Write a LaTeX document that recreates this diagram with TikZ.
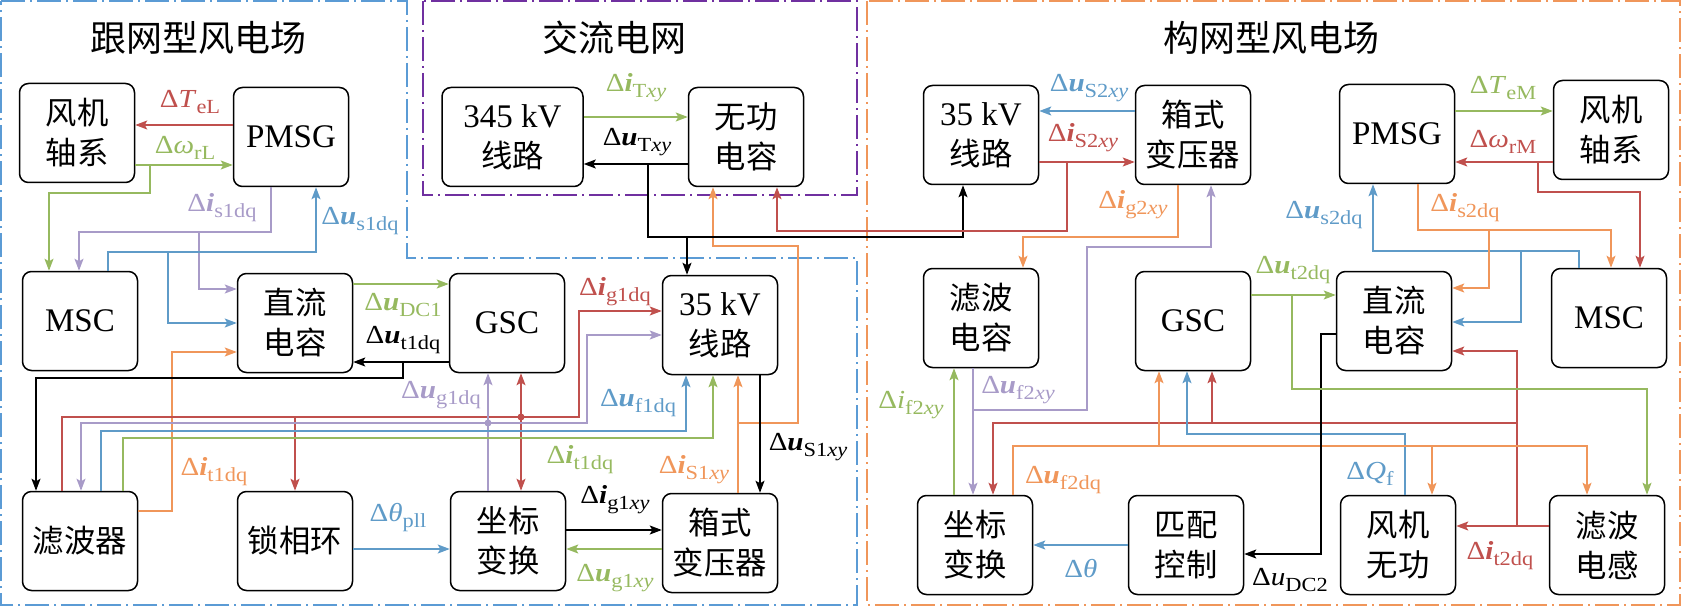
\documentclass[tikz,border=0pt]{standalone}
\usepackage{fontspec}
\usepackage{graphicx}
\setmainfont{Liberation Serif}
\newfontfamily\cjk[Scale=0.95]{Noto Sans CJK SC}
\newfontfamily\cjkt{Noto Sans CJK SC}
\usetikzlibrary{arrows.meta}
\definecolor{cR}{RGB}{192,80,77}
\definecolor{cG}{RGB}{150,185,95}
\definecolor{cB}{RGB}{95,155,200}
\definecolor{cP}{RGB}{168,155,200}
\definecolor{cO}{RGB}{240,150,90}
\definecolor{bB}{RGB}{91,155,213}
\definecolor{bP}{RGB}{112,48,160}
\definecolor{bO}{RGB}{240,150,90}
\newcommand\bv[1]{\textbf{\textit{#1}}}
\newcommand\lb[2]{\scalebox{1.12}[1]{Δ#1\raisebox{-6pt}{\fontsize{20}{20}\selectfont #2}}}
\tikzset{
 box/.style={draw, line width=1.5pt, rounded corners=9pt, minimum width=115pt, minimum height=99pt, align=center, inner sep=0pt, font=\fontsize{33}{40}\selectfont},
 arr/.style={line width=1.3pt, -{Stealth[length=12pt,width=9pt,inset=2.5pt]}},
 lab/.style={inner sep=0pt, font=\fontsize{26}{28}\selectfont},
 bord/.style={line width=1.5pt, dash pattern=on 24pt off 5pt on 2pt off 5pt},
 ttl/.style={inner sep=0pt, font=\fontsize{36}{40}\selectfont\cjkt},
 jd/.style={circle, fill, inner sep=0pt, minimum size=7pt}
}
\begin{document}
\begin{tikzpicture}[x=1pt,y=-1pt]
\useasboundingbox (0,0) rectangle (1682,607);
% region borders
\draw[bord,bB] (1,1) -- (407,1) -- (407,258) -- (857,258) -- (857,605) -- (1,605) -- cycle;
\draw[bord,bP] (423,1) rectangle (857,195);
\draw[bord,bO] (867,1) rectangle (1680,605);
\node[ttl] (t1) at (198,38) {跟网型风电场};
\node[ttl] (t2) at (614,38) {交流电网};
\node[ttl] (t3) at (1271,38) {构网型风电场};
% boxes left
\node[box] (WTL) at (77,133) {{\cjk 风机}\\{\cjk 轴系}};
\node[box] (PML) at (291,137) {PMSG};
\node[box] (MSCL) at (80,321) {MSC};
\node[box] (DCL) at (295,323) {{\cjk 直流}\\{\cjk 电容}};
\node[box] (GSCL) at (507,323) {GSC};
\node[box] (L35L) at (720,325) {35 kV\\{\cjk 线路}};
\node[box] (FLT) at (80,541) {{\cjk 滤波器}};
\node[box] (PLL) at (295,541) {{\cjk 锁相环}};
\node[box] (CTL) at (508,541) {{\cjk 坐标}\\{\cjk 变换}};
\node[box] (XFL) at (720,543) {{\cjk 箱式}\\{\cjk 变压器}};
% boxes middle
\node[box,minimum width=141pt] (L345) at (512.5,137) {345 kV\\{\cjk 线路}};
\node[box] (QC) at (746,137) {{\cjk 无功}\\{\cjk 电容}};
% boxes right
\node[box] (L35R) at (981,135) {35 kV\\{\cjk 线路}};
\node[box] (XFR) at (1193,135) {{\cjk 箱式}\\{\cjk 变压器}};
\node[box] (PMR) at (1397,134) {PMSG};
\node[box] (WTR) at (1611,130) {{\cjk 风机}\\{\cjk 轴系}};
\node[box] (FC) at (981,318) {{\cjk 滤波}\\{\cjk 电容}};
\node[box] (GSCR) at (1193,321) {GSC};
\node[box] (DCR) at (1394,321) {{\cjk 直流}\\{\cjk 电容}};
\node[box] (MSCR) at (1609,318) {MSC};
\node[box] (CTR) at (975,545) {{\cjk 坐标}\\{\cjk 变换}};
\node[box] (MC) at (1186,545) {{\cjk 匹配}\\{\cjk 控制}};
\node[box] (WQ) at (1398,545) {{\cjk 风机}\\{\cjk 无功}};
\node[box] (FL) at (1607,545) {{\cjk 滤波}\\{\cjk 电感}};
% ---------- left connectors
\draw[arr,cR] (PML.west |- 0,125) -- (WTL.east |- 0,125);
\draw[arr,cG] (WTL.east |- 0,165) -- (PML.west |- 0,165);
\draw[arr,cG] (WTL.east |- 0,165) -- (150,165) -- (150,193) -- (49,193) -- (MSCL.north -| 49,0);
\draw[arr,cP] (PML.south -| 271,0) -- (271,232) -- (79,232) -- (MSCL.north -| 79,0);
\draw[arr,cP] (PML.south -| 271,0) -- (271,232) -- (199,232) -- (199,289) -- (DCL.west |- 0,289);
\draw[arr,cB] (MSCL.north -| 108,0) -- (108,252) -- (316,252) -- (PML.south -| 316,0);
\draw[arr,cB] (MSCL.north -| 108,0) -- (108,252) -- (168,252) -- (168,323) -- (DCL.west |- 0,323);
\draw[arr,cO] (FLT.east |- 0,511) -- (172,511) -- (172,352) -- (DCL.west |- 0,352);
\draw[arr,cG] (DCL.east |- 0,284) -- (GSCL.west |- 0,284);
\draw[arr,black] (GSCL.west |- 0,362) -- (DCL.east |- 0,362);
\draw[arr,black] (GSCL.west |- 0,362) -- (403,362) -- (403,378) -- (36,378) -- (FLT.north -| 36,0);
% lower bus
\draw[arr,cR] (FLT.north -| 62,0) -- (62,417) -- (579,417) -- (579,311) -- (L35L.west |- 0,311);
\draw[arr,cR] (FLT.north -| 62,0) -- (62,417) -- (PLL.north |- 0,417) -- (PLL.north);
\coordinate (jr) at (521,417);
\draw[arr,cR] (jr) -- (GSCL.south -| jr);
\draw[arr,cR] (jr) -- (CTL.north -| jr);
\node[jd,cR] (jrd) at (jr) {};
\draw[arr,cP] (CTL.north -| 488,0) -- (GSCL.south -| 488,0);
\draw[arr,cP] (CTL.north -| 488,0) -- (488,423) -- (81,423) -- (FLT.north -| 81,0);
\draw[arr,cP] (CTL.north -| 488,0) -- (488,423) -- (587,423) -- (587,335) -- (L35L.west |- 0,335);
\node[jd,cP] (jpd) at (488,423) {};
\draw[arr,cB] (FLT.north -| 101,0) -- (101,431) -- (686,431) -- (L35L.south -| 686,0);
\draw[arr,cG] (FLT.north -| 123,0) -- (123,438) -- (713,438) -- (L35L.south -| 713,0);
\draw[arr,cO] (XFL.north -| 738,0) -- (L35L.south -| 738,0);
\draw[arr,cO] (XFL.north -| 738,0) -- (738,423) -- (798,423) -- (798,246) -- (713,246) -- (QC.south -| 713,0);
\draw[arr,black] (L35L.south -| 760,0) -- (XFL.north -| 760,0);
\draw[arr,black] (CTL.east |- 0,530) -- (XFL.west |- 0,530);
\draw[arr,cG] (XFL.west |- 0,549) -- (CTL.east |- 0,549);
\draw[arr,cB] (PLL.east |- 0,549) -- (CTL.west |- 0,549);
% ---------- middle connectors
\draw[arr,cG] (L345.east |- 0,117) -- (QC.west |- 0,117);
\draw[arr,black] (QC.west |- 0,164) -- (L345.east |- 0,164);
\draw[arr,black] (QC.west |- 0,164) -- (648,164) -- (648,237) -- (687,237) -- (L35L.north -| 687,0);
\draw[arr,black] (QC.west |- 0,164) -- (648,164) -- (648,237) -- (963,237) -- (L35R.south -| 963,0);
\draw[arr,cR] (L35R.east |- 0,162) -- (XFR.west |- 0,162);
\draw[arr,cR] (L35R.east |- 0,162) -- (1067,162) -- (1067,231) -- (777,231) -- (QC.south -| 777,0);
\draw[arr,cB] (XFR.west |- 0,111) -- (L35R.east |- 0,111);
% ---------- right connectors
\draw[arr,cO] (XFR.south -| 1178,0) -- (1178,237) -- (1023,237) -- (FC.north -| 1023,0);
\draw[arr,cP] (FC.south -| 973,0) -- (CTR.north -| 973,0);
\draw[arr,cP] (FC.south -| 973,0) -- (973,410) -- (1087,410) -- (1087,247) -- (1211,247) -- (XFR.south -| 1211,0);
\draw[arr,cG] (CTR.north -| 954,0) -- (FC.south -| 954,0);
\draw[arr,cR] (FL.west |- 0,526) -- (WQ.east |- 0,526);
\draw[arr,cR] (FL.west |- 0,526) -- (1517,526) -- (1517,351) -- (DCR.east |- 0,351);
\draw[arr,cR] (FL.west |- 0,526) -- (1517,526) -- (1517,423) -- (993,423) -- (CTR.north -| 993,0);
\draw[arr,cR] (FL.west |- 0,526) -- (1517,526) -- (1517,423) -- (1212,423) -- (GSCR.south -| 1212,0);
\draw[arr,cB] (WQ.north -| 1405,0) -- (1405,434) -- (1187,434) -- (GSCR.south -| 1187,0);
\draw[arr,cO] (CTR.north -| 1013,0) -- (1013,446) -- (1587,446) -- (FL.north -| 1587,0);
\draw[arr,cO] (CTR.north -| 1013,0) -- (1013,446) -- (1159,446) -- (GSCR.south -| 1159,0);
\draw[arr,cO] (CTR.north -| 1013,0) -- (1013,446) -- (1432,446) -- (WQ.north -| 1432,0);
\draw[arr,black] (DCR.west |- 0,334) -- (1321,334) -- (1321,554) -- (MC.east |- 0,554);
\draw[arr,cB] (MC.west |- 0,545) -- (CTR.east |- 0,545);
\draw[arr,cG] (GSCR.east |- 0,295) -- (DCR.west |- 0,295);
\draw[arr,cG] (GSCR.east |- 0,295) -- (1292,295) -- (1292,389) -- (1647,389) -- (FL.north -| 1647,0);
\draw[arr,cB] (MSCR.north -| 1579,0) -- (1579,251) -- (1373,251) -- (PMR.south -| 1373,0);
\draw[arr,cB] (MSCR.north -| 1579,0) -- (1579,251) -- (1521,251) -- (1521,322) -- (DCR.east |- 0,322);
\draw[arr,cO] (PMR.south -| 1418,0) -- (1418,230) -- (1611,230) -- (MSCR.north -| 1611,0);
\draw[arr,cO] (PMR.south -| 1418,0) -- (1418,230) -- (1489,230) -- (1489,288) -- (DCR.east |- 0,288);
\draw[arr,cR] (WTR.west |- 0,162) -- (PMR.east |- 0,162);
\draw[arr,cR] (WTR.west |- 0,162) -- (1538,162) -- (1538,192) -- (1640,192) -- (MSCR.north -| 1640,0);
\draw[arr,cG] (PMR.east |- 0,111) -- (WTR.west |- 0,111);
% ---------- labels
\node[lab,cR] (a1) at (190,102) {\lb{\textit{T}}{eL}};
\node[lab,cG] (a2) at (185,148) {\lb{\textit{ω}}{rL}};
\node[lab,cP] (a3) at (222,208) {\lb{\bv{i}}{s1dq}};
\node[lab,cB] (a4) at (360,221) {\lb{\bv{u}}{s1dq}};
\node[lab,cO] (a5) at (214,472) {\lb{\bv{i}}{t1dq}};
\node[lab,cG] (a6) at (403,305) {\lb{\bv{u}}{DC1}};
\node[lab,black] (a7) at (403,340) {\lb{\bv{u}}{t1dq}};
\node[lab,cR] (a8) at (615,292) {\lb{\bv{i}}{g1dq}};
\node[lab,cP] (a9) at (441,395) {\lb{\bv{u}}{g1dq}};
\node[lab,cB] (a10) at (638,403) {\lb{\bv{u}}{f1dq}};
\node[lab,cG] (a11) at (580,460) {\lb{\bv{i}}{t1dq}};
\node[lab,cO] (a12) at (694,470) {\lb{\bv{i}}{S1\textit{xy}}};
\node[lab,black] (a13) at (808,447) {\lb{\bv{u}}{S1\textit{xy}}};
\node[lab,black] (a14) at (615,500) {\lb{\bv{i}}{g1\textit{xy}}};
\node[lab,cG] (a15) at (615,578) {\lb{\bv{u}}{g1\textit{xy}}};
\node[lab,cB] (a16) at (398,518) {\lb{\textit{θ}}{pll}};
\node[lab,cG] (a17) at (636,88) {\lb{\bv{i}}{T\textit{xy}}};
\node[lab,black] (a18) at (637,142) {\lb{\bv{u}}{T\textit{xy}}};
\node[lab,cB] (a19) at (1089,88) {\lb{\bv{u}}{S2\textit{xy}}};
\node[lab,cR] (a20) at (1083,138) {\lb{\bv{i}}{S2\textit{xy}}};
\node[lab,cO] (a21) at (1133,205) {\lb{\bv{i}}{g2\textit{xy}}};
\node[lab,cP] (a22) at (1018,390) {\lb{\bv{u}}{f2\textit{xy}}};
\node[lab,cG] (a23) at (911,405) {\lb{\textit{i}}{f2\textit{xy}}};
\node[lab,cR] (a24) at (1500,556) {\lb{\bv{i}}{t2dq}};
\node[lab,cB] (a25) at (1370,474) {\lb{\textit{Q}}{f}};
\node[lab,cO] (a26) at (1063,480) {\lb{\bv{u}}{f2dq}};
\node[lab,black] (a27) at (1290,580) {\lb{\textit{u}}{DC2}};
\node[lab,cB] (a28) at (1081,569) {\scalebox{1.12}[1]{Δ\textit{θ}}};
\node[lab,cG] (a29) at (1293,270) {\lb{\bv{u}}{t2dq}};
\node[lab,cB] (a30) at (1324,215) {\lb{\bv{u}}{s2dq}};
\node[lab,cO] (a31) at (1465,208) {\lb{\bv{i}}{s2dq}};
\node[lab,cR] (a32) at (1503,142) {\lb{\textit{ω}}{rM}};
\node[lab,cG] (a33) at (1503,88) {\lb{\textit{T}}{eM}};
\end{tikzpicture}
\end{document}
